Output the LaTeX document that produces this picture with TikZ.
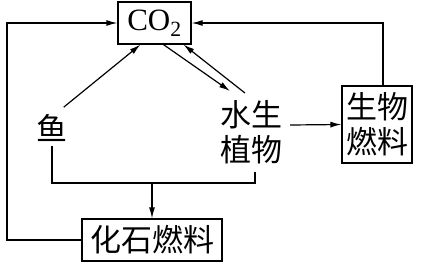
\documentclass[tikz,border=0pt]{standalone}
\usepackage{fontspec}
\setmainfont{Liberation Serif}
\newfontfamily\cjk{Noto Sans CJK SC}
\usetikzlibrary{positioning,arrows.meta,calc}

\tikzset{
  box/.style={draw,line width=1.2pt,inner sep=0pt,align=center},
  word/.style={inner sep=0pt,align=center,font=\cjk\fontsize{31}{35}\selectfont},
  flow/.style={line width=1.2pt,-{Latex[length=11pt,width=6pt]}},
  link/.style={line width=1.2pt}
}

\begin{document}
\begin{tikzpicture}[x=1pt,y=-1pt]
        \useasboundingbox (0,0) rectangle (425,265);
        % nodes
        \node[box,minimum width=73pt,minimum height=42pt,font=\fontsize{31}{35}\selectfont] (co2) at (154.5,23) {CO\textsubscript{2}};
        \node[word] (fish) at (52,128) {鱼};
        \node[word] (plant) at (251,132) {水生\\植物};
        \node[box,word,minimum width=70pt,minimum height=77pt] (bio) at (377,124.5) {生物\\燃料};
        \node[box,word,minimum width=140pt,minimum height=42pt] (fossil) at (152,240) {化石燃料};
        \coordinate (lc) at (7,240);
        \coordinate (join) at (152,183);
        % connectors
        \draw[flow] (fossil.west) -- (lc) |- (co2.west);
        \draw[flow] ([xshift=6pt]bio.north) |- (co2.east);
        \draw[flow] ([xshift=-4pt,yshift=7pt]fish.north east) -- ([xshift=-14pt]co2.south);
        \draw[flow] ([xshift=9pt]co2.south) -- ([xshift=-21pt,yshift=9pt]plant.north);
        \draw[flow] ([xshift=-6pt,yshift=7pt]plant.north) -- ([xshift=29pt]co2.south);
        \draw[flow] ([xshift=8pt,yshift=7pt]plant.east) -- (bio.west);
        \draw[link] ([yshift=-4pt]fish.south) |- (join) -| ([xshift=4pt,yshift=-8pt]plant.south);
        \draw[flow] (join) -- (fossil.north);
\end{tikzpicture}
\end{document}
